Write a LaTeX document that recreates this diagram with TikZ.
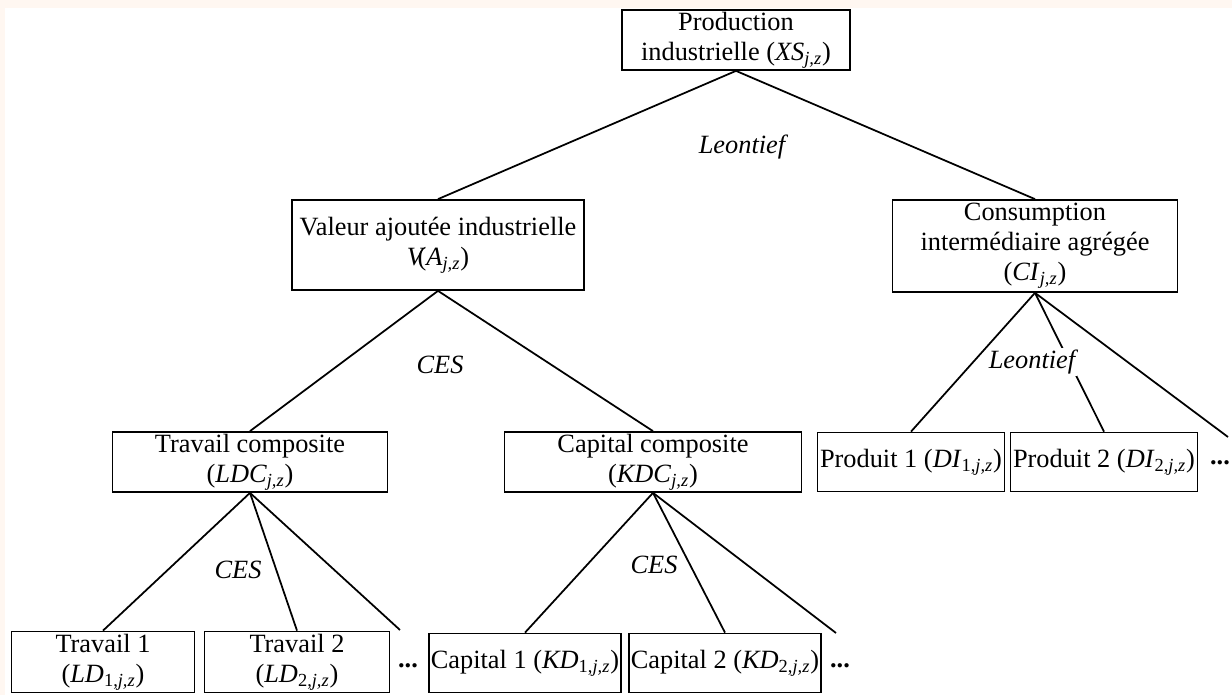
\documentclass[tikz,border=0pt]{standalone}
\usepackage{fontspec}
\setmainfont{Liberation Serif}
\definecolor{pagepink}{RGB}{255,247,241}
\newcommand{\varsub}[2]{\textit{#1}\textsubscript{#2}}
\begin{document}
\begin{tikzpicture}[x=0.02cm, y=-0.02cm,
    every node/.style={font=\fontsize{15}{17}\selectfont},
    box/.style={draw, line width=1pt, align=center, inner sep=1pt},
    law/.style={fill=white, inner sep=1pt, font=\fontsize{15}{17}\selectfont\itshape},
    link/.style={line width=1pt}]
    \useasboundingbox (0,0) rectangle (1232,695);
    \fill[pagepink] (0,0) rectangle (1232,695);
    \fill[white] (5,8) rectangle (1232,695);

    % top level
    \node[box, minimum width=4.56cm, minimum height=1.2cm] (xs) at (736, 40) {Production\\industrielle (\varsub{XS}{\textit{j,z}})};

    \node[box, minimum width=5.84cm, minimum height=1.8cm] (va) at (438, 245) {Valeur ajoutée industrielle\\\textit{V}\kern-0.3em(\varsub{A}{\textit{j,z}})};
    \node[box, minimum width=5.7cm, minimum height=1.84cm] (ci) at (1035, 246) {Consumption\\intermédiaire agrégée\\(\varsub{CI}{\textit{j,z}})};

    % second level
    \node[box, minimum width=5.5cm, minimum height=1.2cm] (ldc) at (250, 462) {Travail composite\\(\varsub{LDC}{\textit{j,z}})};
    \node[box, minimum width=5.94cm, minimum height=1.2cm] (kdc) at (653, 462) {Capital composite\\(\varsub{KDC}{\textit{j,z}})};

    \node[box, minimum width=3.74cm, minimum height=1.18cm] (di1) at (911, 462) {Produit 1 (\varsub{DI}{1,\textit{j,z}})};
    \node[box, minimum width=3.74cm, minimum height=1.18cm] (di2) at (1104, 462) {Produit 2 (\varsub{DI}{2,\textit{j,z}})};
    \node (dots3) at (1220, 463) {\textbf{...}};
    \coordinate (di3) at (1228, 437);

    % third level
    \node[box, minimum width=3.66cm, minimum height=1.22cm] (ld1) at (103, 662) {Travail 1\\(\varsub{LD}{1,\textit{j,z}})};
    \node[box, minimum width=3.7cm, minimum height=1.22cm] (ld2) at (297, 662) {Travail 2\\(\varsub{LD}{2,\textit{j,z}})};
    \node (dots1) at (408, 666) {\textbf{...}};
    \coordinate (ld3) at (400, 630);

    \node[box, minimum width=3.8cm, minimum height=1.18cm] (kd1) at (525, 663) {Capital 1 (\varsub{KD}{1,\textit{j,z}})};
    \node[box, minimum width=3.8cm, minimum height=1.18cm] (kd2) at (725, 663) {Capital 2 (\varsub{KD}{2,\textit{j,z}})};
    \node (dots2) at (840, 666) {\textbf{...}};
    \coordinate (kd3) at (836, 633);

    % connections
    \draw[link] (xs.south) -- (va.north);
    \draw[link] (xs.south) -- (ci.north);

    \draw[link] (va.south) -- (ldc.north);
    \draw[link] (va.south) -- (kdc.north);

    \draw[link] (ldc.south) -- (ld1.north);
    \draw[link] (ldc.south) -- (ld2.north);
    \draw[link] (ldc.south) -- (ld3);

    \draw[link] (kdc.south) -- (kd1.north);
    \draw[link] (kdc.south) -- (kd2.north);
    \draw[link] (kdc.south) -- (kd3);

    \draw[link] (ci.south) -- (di1.north);
    \draw[link] (ci.south) -- (di2.north);
    \draw[link] (ci.south) -- (di3);

    % aggregation laws
    \node[law] (law1) at (742, 147) {Leontief};
    \node[law] (law2) at (440, 365) {CES};
    \node[law] (law3) at (238, 570) {CES};
    \node[law] (law4) at (654, 565) {CES};
    \node[law] (law5) at (1032, 362) {Leontief};
\end{tikzpicture}
\end{document}
